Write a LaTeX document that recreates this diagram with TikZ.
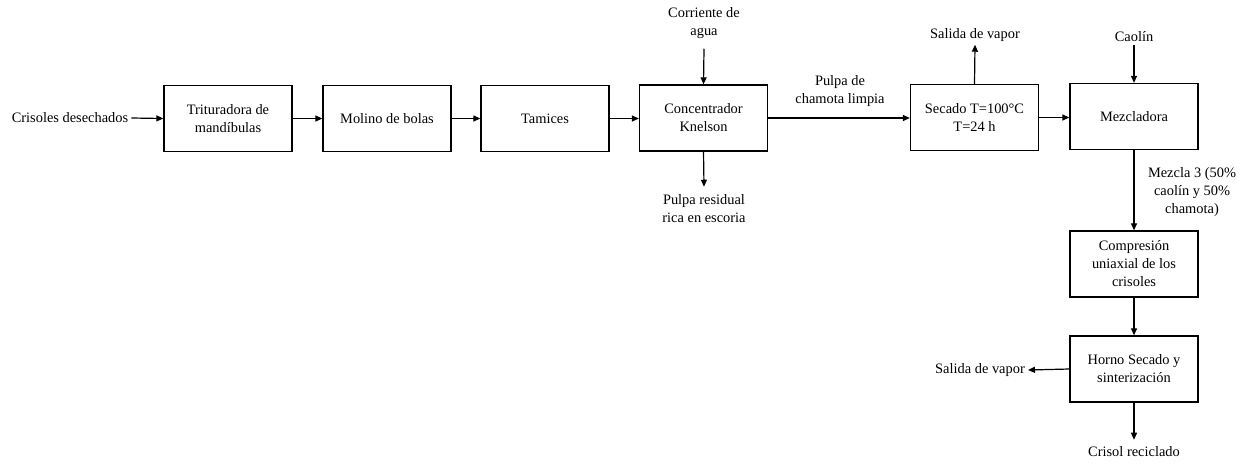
\documentclass[tikz,border=0pt]{standalone}
\usepackage{fontspec}
\setmainfont{Liberation Serif}
\usetikzlibrary{arrows.meta}
\begin{document}
\begin{tikzpicture}[x=1pt,y=-1pt,
  font=\fontsize{14.4}{18}\selectfont,
  proc/.style={draw,line width=1.3pt,minimum width=128pt,minimum height=66pt,align=center,inner sep=2pt},
  lbl/.style={align=center,inner sep=3pt},
  flow/.style={line width=1.2pt,-{Triangle[length=7pt,width=6pt]}}]
\useasboundingbox (0,0) rectangle (1244,464);
\node[proc] (b1) at (228,118.5) {Trituradora de\\mandíbulas};
\node[proc] (b2) at (387,118.5) {Molino de bolas};
\node[proc] (b3) at (545,118.5) {Tamices};
\node[proc] (b4) at (703.5,118) {Concentrador\\Knelson};
\node[proc] (b5) at (974.5,117.5) {Secado T=100°C\\T=24 h};
\node[proc] (b6) at (1134,116.5) {Mezcladora};
\node[proc] (b7) at (1134,264) {Compresión\\uniaxial de los\\crisoles};
\node[proc] (b8) at (1134,369) {Horno Secado y\\sinterización};
\node[lbl] (in) at (70,118) {Crisoles desechados};
\node[lbl] (agua) at (704,23) {Corriente de\\agua};
\node[lbl] (res) at (704,209) {Pulpa residual\\rica en escoria};
\node[lbl] (pulpa) at (840,91) {Pulpa de\\chamota limpia};
\node[lbl] (vap1) at (975,35) {Salida de vapor};
\node[lbl] (cao) at (1134,37) {Caolín};
\node[lbl] (mez) at (1192,192) {Mezcla 3 (50\%\\caolín y 50\%\\chamota)};
\node[lbl] (vap2) at (980,370) {Salida de vapor};
\node[lbl] (out) at (1134,452) {Crisol reciclado};
\draw[flow] (in.east) -- (b1.west);
\draw[flow] (b1.east) -- (b1.east -| b2.west);
\draw[flow] (b2.east) -- (b2.east -| b3.west);
\draw[flow] (b3.east) -- (b3.east -| b4.west);
\draw[flow] ([yshift=-7pt]agua.south) -- (b4.north);
\draw[flow] (b4.south) -- ([yshift=5pt]res.north);
\draw[flow] (b4.east) -- (b4.east -| b5.west);
\draw[flow] (b5.north) -- (vap1.south);
\draw[flow] (b5.east) -- (b5.east -| b6.west);
\draw[flow] (cao.south) -- (b6.north);
\draw[flow] (b6.south) -- (b7.north);
\draw[flow] (b7.south) -- (b8.north);
\draw[flow] (b8.west) -- (vap2.east);
\draw[flow] (b8.south) -- ([yshift=4pt]out.north);
\end{tikzpicture}
\end{document}
